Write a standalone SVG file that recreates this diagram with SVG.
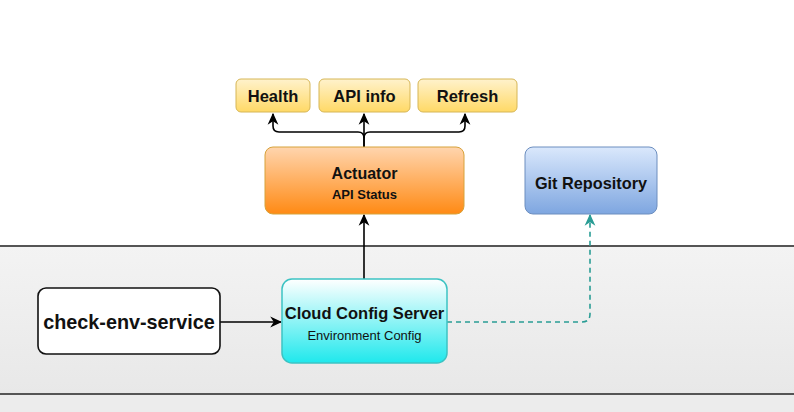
<svg xmlns="http://www.w3.org/2000/svg" width="794" height="412" viewBox="0 0 794 412">
<defs>
<linearGradient id="gY" x1="0" y1="0" x2="0" y2="1"><stop offset="0" stop-color="#fff2cc"/><stop offset="1" stop-color="#ffd966"/></linearGradient>
<linearGradient id="gO" x1="0" y1="0" x2="0" y2="1"><stop offset="0" stop-color="#ffd5ae"/><stop offset="1" stop-color="#ff8a14"/></linearGradient>
<linearGradient id="gB" x1="0" y1="0" x2="0" y2="1"><stop offset="0" stop-color="#dae8fc"/><stop offset="1" stop-color="#7ea6e0"/></linearGradient>
<linearGradient id="gC" x1="0" y1="0" x2="0" y2="1"><stop offset="0" stop-color="#ffffff"/><stop offset="1" stop-color="#1fe8ec"/></linearGradient>
<linearGradient id="gBand" x1="0" y1="0" x2="0" y2="1"><stop offset="0" stop-color="#f3f3f3"/><stop offset="1" stop-color="#e8e8e8"/></linearGradient>
<marker id="ah" viewBox="0 0 10 10" refX="9" refY="5" markerWidth="12" markerHeight="12" markerUnits="userSpaceOnUse" orient="auto"><path d="M0,0.5 L10,5 L0,9.5 L3,5 Z" fill="#000"/></marker>
<marker id="ahT" viewBox="0 0 10 10" refX="9" refY="5" markerWidth="12" markerHeight="12" markerUnits="userSpaceOnUse" orient="auto"><path d="M0,0.5 L10,5 L0,9.5 L3,5 Z" fill="#2a9d95"/></marker>
</defs>
<style>
.t{font-family:"Liberation Sans",Arial,sans-serif;fill:#111;text-anchor:middle}
.b{font-weight:bold}
.c{fill:none;stroke:#000;stroke-width:1.6}
</style>
<rect x="0" y="0" width="794" height="412" fill="#ffffff"/>
<rect x="0" y="246" width="794" height="148" fill="url(#gBand)"/>
<rect x="0" y="394" width="794" height="18" fill="#ececec"/>
<line x1="0" y1="246" x2="794" y2="246" stroke="#555" stroke-width="2"/>
<line x1="0" y1="394" x2="794" y2="394" stroke="#555" stroke-width="2"/>
<g id="connectors">
<path class="c" d="M364,147 V138 Q364,132 358,132 H279 Q273,132 273,126 V114" marker-end="url(#ah)"/>
<path class="c" d="M364,138 Q364,132 370,132 H459 Q465,132 465,126 V114" marker-end="url(#ah)"/>
<path class="c" d="M364,147 V114" marker-end="url(#ah)"/>
<path class="c" d="M364,279 V215" marker-end="url(#ah)"/>
<path class="c" d="M220,322 H281" marker-end="url(#ah)"/>
<path d="M447,322 H582 Q590,322 590,314 V215" fill="none" stroke="#2a9d95" stroke-width="1.6" stroke-dasharray="5,4" marker-end="url(#ahT)"/>
</g>
<g id="health"><rect x="236" y="79" width="74" height="33" rx="5" fill="url(#gY)" stroke="#d6b656"/><text class="t b" x="273" y="101.5" font-size="16.5">Health</text></g>
<g id="apiinfo"><rect x="319" y="79" width="91" height="33" rx="5" fill="url(#gY)" stroke="#d6b656"/><text class="t b" x="364.5" y="101.5" font-size="16.5">API info</text></g>
<g id="refresh"><rect x="418" y="79" width="99" height="33" rx="5" fill="url(#gY)" stroke="#d6b656"/><text class="t b" x="467.5" y="101.5" font-size="16.5">Refresh</text></g>
<g id="actuator"><rect x="265" y="147" width="199" height="67" rx="8" fill="url(#gO)" stroke="#d7a23a"/><text class="t b" x="364.5" y="179" font-size="16">Actuator</text><text class="t b" x="364.5" y="199" font-size="13">API Status</text></g>
<g id="git"><rect x="525" y="147" width="132" height="67" rx="8" fill="url(#gB)" stroke="#6c8ebf"/><text class="t b" x="591" y="189" font-size="16.3">Git Repository</text></g>
<g id="cloud"><rect x="282" y="279" width="165" height="84" rx="10" fill="url(#gC)" stroke="#3cc3c3" stroke-width="1.5"/><text class="t b" x="364.5" y="318.5" font-size="16.5">Cloud Config Server</text><text class="t" x="364.5" y="340" font-size="13">Environment Config</text></g>
<g id="checkenv"><rect x="38" y="288" width="182" height="66" rx="8" fill="#ffffff" stroke="#111" stroke-width="1.6"/><text class="t b" x="129" y="329" font-size="19.8">check-env-service</text></g>
</svg>
